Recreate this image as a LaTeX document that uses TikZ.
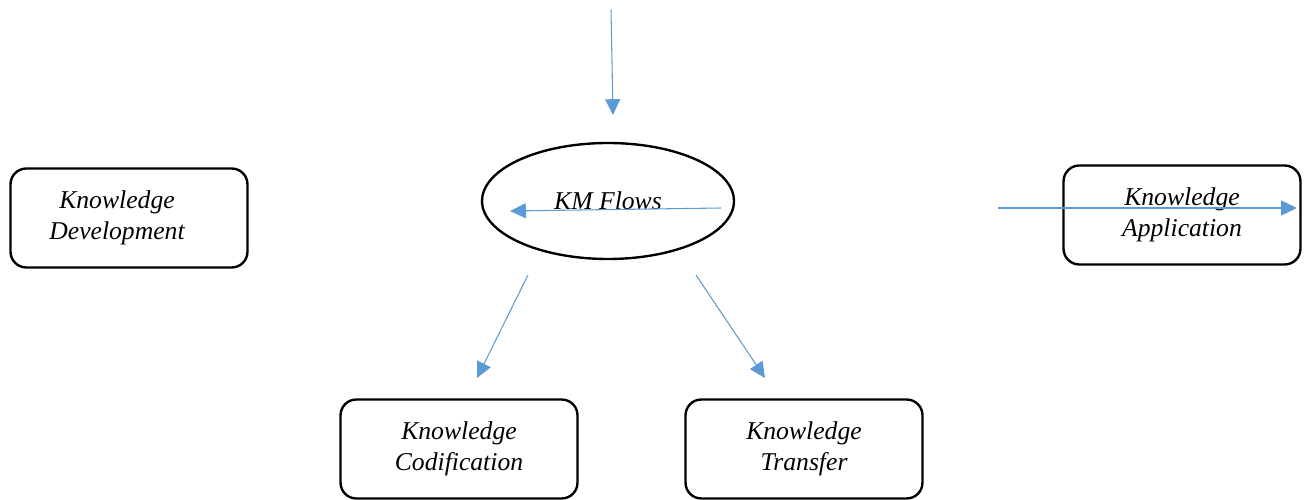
\documentclass[tikz,border=0pt]{standalone}
\usepackage{fontspec}
\setmainfont{Liberation Serif}
\usetikzlibrary{positioning, arrows.meta, shapes.geometric}
\definecolor{flowblue}{RGB}{91,155,213}
\tikzset{
    kbox/.style={draw=black, line width=1.35pt, rounded corners=9pt, minimum width=4.74cm, minimum height=1.98cm, align=center},
    hub/.style={ellipse, draw=black, line width=1.35pt, minimum width=5.04cm, minimum height=2.32cm},
    flow/.style={draw=flowblue, line width=0.6pt, -{Triangle[length=9pt, width=8.5pt]}}
}

\begin{document}
\begin{tikzpicture}[x=0.02cm, y=-0.02cm, every node/.style={font=\fontsize{14.6}{18}\selectfont\itshape}]
  \useasboundingbox (0,0) rectangle (1306,500);
  \node[hub]  (km)    at (608,201)  {KM Flows};
  \node[kbox] (dev)   at (129,218)  {Knowledge\kern0.48cm\\Development\kern0.48cm};
  \node[kbox] (app)   at (1182,215) {Knowledge\\Application};
  \node[kbox] (cod)   at (459,449)  {Knowledge\\Codification};
  \node[kbox] (trans) at (804,449)  {Knowledge\\Transfer};

  \coordinate (in)   at (611,10);
  \coordinate (inT)  at (613,115);
  \coordinate (fa)   at (721,208);
  \coordinate (faT)  at (510,211);
  \coordinate (ap)   at (998,208);
  \coordinate (apT)  at (1297,208);
  \coordinate (co)   at (528,275);
  \coordinate (coT)  at (477,378);
  \coordinate (tr)   at (696,275);
  \coordinate (trT)  at (765,378);

  \draw[flow] (in) -- (inT);
  \draw[flow] (fa) -- (faT);
  \draw[flow] (ap) -- (apT);
  \draw[flow] (co) -- (coT);
  \draw[flow] (tr) -- (trT);
\end{tikzpicture}
\end{document}
